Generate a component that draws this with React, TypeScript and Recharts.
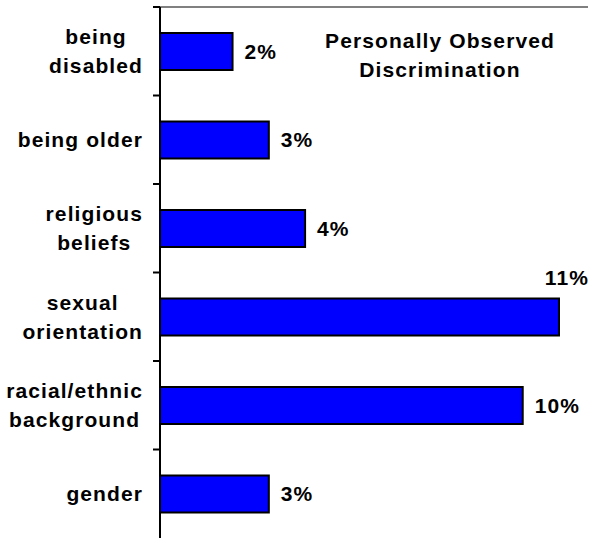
import { BarChart, Bar, XAxis, YAxis, LabelList } from 'recharts';

// categories top to bottom, '\n' marks the line break in the axis label
const categories = [
  'being\ndisabled',
  'being older',
  'religious\nbeliefs',
  'sexual\norientation',
  'racial/ethnic\nbackground',
  'gender',
];
const observedPct = [2, 3, 4, 11, 10, 3];

const chartData = categories.map((name, i) => ({ name, value: observedPct[i] }));

const W = 591;
const H = 538;
const TOP = 7;
const RIGHT = 3;
const AXIS_W = 160;
const band = (H - TOP) / categories.length;
const font = '"Liberation Sans", Arial, sans-serif';
const FS = 21;
const LS = 1.1;

const CategoryTick = (props: any) => {
  const { y, payload } = props;
  return (
    <g>
      <line x1={AXIS_W - 7} x2={AXIS_W} y1={y - band / 2} y2={y - band / 2} stroke="#000" strokeWidth={2} />
      <foreignObject x={0} y={y - 45} width={143} height={90}>
        <div
          style={{
            height: 90,
            display: 'flex',
            alignItems: 'center',
            justifyContent: 'flex-end',
          }}
        >
          <div
            style={{
              display: 'inline-block',
              whiteSpace: 'pre',
              textAlign: 'center',
              fontFamily: font,
              fontWeight: 'bold',
              fontSize: FS,
              letterSpacing: LS,
              lineHeight: '29px',
              color: '#000',
            }}
          >
            {payload.value}
          </div>
        </div>
      </foreignObject>
    </g>
  );
};

const ValueLabel = (props: any) => {
  const { x, y, width, height, value } = props;
  const text = `${value}%`;
  const end = x + width;
  // not enough room to the right of the bar: put the label above its end
  if (end + 12 + 45 > W - RIGHT) {
    return (
      <text x={W - 2} y={y - 14} textAnchor="end" fontFamily={font} fontWeight="bold" fontSize={FS} letterSpacing={LS} fill="#000">
        {text}
      </text>
    );
  }
  return (
    <text x={end + 12} y={y + height / 2 + 7} textAnchor="start" fontFamily={font} fontWeight="bold" fontSize={FS} letterSpacing={LS} fill="#000">
      {text}
    </text>
  );
};

export default function App() {
  return (
    <div style={{ position: 'relative', width: W, height: H, overflow: 'hidden', background: '#fff' }}>
      <style>{'body{margin:0}'}</style>
      <BarChart
        width={W}
        height={H}
        data={chartData}
        layout="vertical"
        margin={{ top: TOP - 1, right: RIGHT, left: 0, bottom: 0 }}
        barSize={37}
      >
        <XAxis
          type="number"
          orientation="top"
          domain={[0, 11.8]}
          height={1}
          tick={false}
          tickLine={false}
          axisLine={{ stroke: '#808080', strokeWidth: 2 }}
        />
        <YAxis
          type="category"
          dataKey="name"
          width={AXIS_W}
          axisLine={{ stroke: '#000', strokeWidth: 2 }}
          tickLine={false}
          tick={<CategoryTick />}
          interval={0}
        />
        <Bar dataKey="value" fill="#0000FF" stroke="#000" strokeWidth={2} isAnimationActive={false}>
          <LabelList dataKey="value" content={<ValueLabel />} />
        </Bar>
      </BarChart>
      <div
        style={{
          position: 'absolute',
          left: 290,
          top: 26,
          width: 300,
          textAlign: 'center',
          fontFamily: font,
          fontWeight: 'bold',
          fontSize: FS,
          letterSpacing: LS,
          lineHeight: '29px',
          color: '#000',
        }}
      >
        Personally Observed
        <br />
        Discrimination
      </div>
    </div>
  );
}
